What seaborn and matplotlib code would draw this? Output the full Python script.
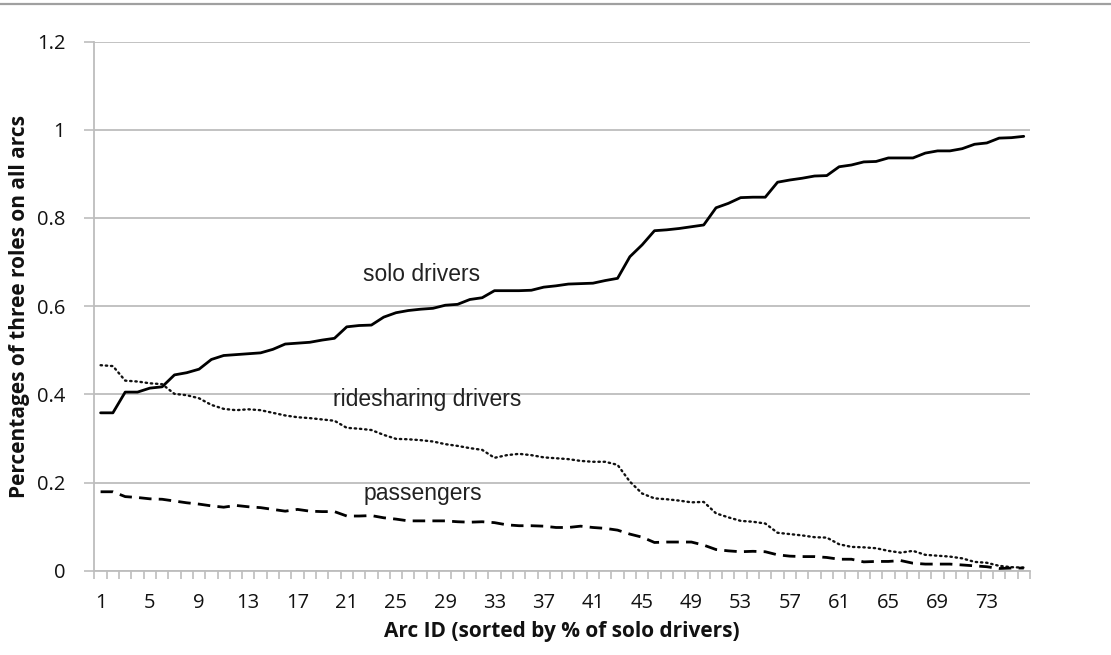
import matplotlib
matplotlib.use("Agg")
import matplotlib.pyplot as plt
from matplotlib.lines import Line2D
from matplotlib.ticker import FixedLocator
import numpy as np
import pandas as pd
import seaborn as sns

arc_ids = list(range(1, 77))

solo_drivers = [
    0.358, 0.358, 0.405, 0.405, 0.414, 0.417, 0.444, 0.449, 0.457, 0.479,
    0.488, 0.490, 0.492, 0.494, 0.502, 0.514, 0.516, 0.518, 0.523, 0.527,
    0.553, 0.556, 0.557, 0.575, 0.585, 0.590, 0.593, 0.595, 0.602, 0.604,
    0.615, 0.619, 0.635, 0.635, 0.635, 0.636, 0.643, 0.646, 0.650, 0.651,
    0.652, 0.658, 0.663, 0.712, 0.739, 0.771, 0.773, 0.776, 0.780, 0.784,
    0.823, 0.833, 0.846, 0.847, 0.847, 0.881, 0.886, 0.890, 0.895, 0.896,
    0.916, 0.920, 0.927, 0.928, 0.936, 0.936, 0.936, 0.947, 0.952, 0.952,
    0.957, 0.967, 0.970, 0.981, 0.982, 0.985,
]

ridesharing_drivers = [
    0.466, 0.464, 0.431, 0.429, 0.425, 0.423, 0.401, 0.398, 0.391, 0.376,
    0.367, 0.364, 0.366, 0.364, 0.358, 0.352, 0.348, 0.346, 0.343, 0.340,
    0.324, 0.322, 0.319, 0.308, 0.299, 0.298, 0.296, 0.293, 0.287, 0.283,
    0.278, 0.274, 0.256, 0.262, 0.265, 0.262, 0.257, 0.255, 0.253, 0.249,
    0.247, 0.247, 0.240, 0.202, 0.175, 0.164, 0.162, 0.159, 0.155, 0.156,
    0.130, 0.121, 0.113, 0.111, 0.107, 0.086, 0.083, 0.080, 0.076, 0.075,
    0.060, 0.054, 0.053, 0.051, 0.045, 0.041, 0.045, 0.036, 0.034, 0.032,
    0.028, 0.020, 0.018, 0.011, 0.008, 0.007,
]

passengers = [
    0.179, 0.179, 0.168, 0.166, 0.163, 0.162, 0.158, 0.154, 0.151, 0.147,
    0.144, 0.148, 0.145, 0.143, 0.139, 0.135, 0.139, 0.135, 0.134, 0.134,
    0.124, 0.124, 0.125, 0.120, 0.117, 0.113, 0.113, 0.113, 0.113, 0.111,
    0.110, 0.111, 0.109, 0.104, 0.102, 0.102, 0.101, 0.098, 0.098, 0.101,
    0.098, 0.096, 0.092, 0.083, 0.076, 0.064, 0.065, 0.065, 0.065, 0.058,
    0.048, 0.045, 0.043, 0.044, 0.043, 0.036, 0.033, 0.032, 0.032, 0.030,
    0.026, 0.026, 0.020, 0.021, 0.021, 0.023, 0.017, 0.015, 0.015, 0.015,
    0.013, 0.011, 0.009, 0.005, 0.006, 0.006,
]

x_tick_labels = [str(v) for v in range(1, 77, 4)]
y_ticks = [0, 0.2, 0.4, 0.6, 0.8, 1.0, 1.2]
y_tick_labels = ["0", "0.2", "0.4", "0.6", "0.8", "1", "1.2"]

df = pd.DataFrame({
    "arc": arc_ids,
    "solo drivers": solo_drivers,
    "ridesharing drivers": ridesharing_drivers,
    "passengers": passengers,
})

sns.set_theme(style="white")
plt.rcParams["font.family"] = ["Open Sans", "DejaVu Sans"]

fig = plt.figure(figsize=(11.11, 6.55), dpi=100)
ax = fig.add_axes([0.085, 0.1287, 0.842, 0.8079])

grid_c = "#BDBDBD"
sns.lineplot(data=df, x="arc", y="solo drivers", ax=ax, color="black",
             linewidth=2.0, linestyle="-", zorder=3)
sns.lineplot(data=df, x="arc", y="ridesharing drivers", ax=ax, color="#111111",
             linewidth=1.7, linestyle=(0, (0.6, 1.6)), dash_capstyle="round", zorder=3)
sns.lineplot(data=df, x="arc", y="passengers", ax=ax, color="black",
             linewidth=2.0, linestyle=(0, (4.5, 2.6)), zorder=3)

ax.set_xlim(0.5, 76.5)
ax.set_ylim(0, 1.2)

ax.set_yticks(y_ticks)
ax.set_yticklabels(y_tick_labels)
ax.yaxis.grid(True, color=grid_c, linewidth=1.3)
ax.xaxis.grid(False)
ax.set_axisbelow(True)

ax.xaxis.set_major_locator(FixedLocator(list(range(1, 77, 4))))
ax.set_xticklabels(x_tick_labels)
ax.xaxis.set_minor_locator(FixedLocator(list(np.arange(0.5, 77, 1.0))))
ax.tick_params(axis="x", which="major", length=0, pad=16, labelsize=14.5, labelcolor="#111111")
ax.tick_params(axis="x", which="minor", length=6, width=1.2, color=grid_c, direction="out")
ax.tick_params(axis="y", which="major", length=7, width=1.2, color=grid_c, direction="out",
               pad=14, labelsize=14.5, labelcolor="#111111")
ax.tick_params(bottom=True, left=True, which="both")

for s in ["top", "right"]:
    ax.spines[s].set_visible(False)
for s in ["left", "bottom"]:
    ax.spines[s].set_color(grid_c)
    ax.spines[s].set_linewidth(1.3)

ax.set_xlabel("Arc ID (sorted by % of solo drivers)", fontsize=15, fontweight="bold",
              labelpad=6, color="#111111")
ax.set_ylabel("Percentages of three roles on all arcs", fontsize=15, fontweight="bold",
              labelpad=5, color="#111111")

ann_kw = dict(fontsize=16.5, color="#222222", ha="center", va="center",
              family=["Liberation Sans", "DejaVu Sans"])
ax.text(27.06, 0.672, "solo drivers", **ann_kw)
ax.text(27.5, 0.389, "ridesharing drivers", **ann_kw)
ax.text(27.15, 0.176, "passengers", **ann_kw)

fig.add_artist(Line2D([0, 1], [1 - 4 / 655, 1 - 4 / 655], transform=fig.transFigure,
                      color="#A0A0A0", linewidth=1.6))

fig.savefig("out.png", dpi=100, facecolor="white")
